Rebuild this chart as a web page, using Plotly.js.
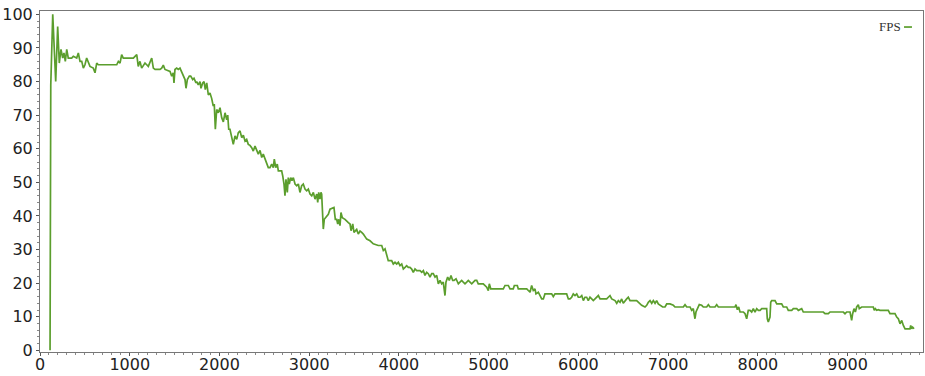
<!DOCTYPE html>
<html>
<head>
<meta charset="utf-8">
<script src="https://cdn.plot.ly/plotly-3.0.1.min.js"></script>
<style>html,body{margin:0;padding:0;background:#fff;}#chart{width:925px;height:376px;}</style>
</head>
<body>
<div id="chart"></div>
<script>
// Frame time (x) and FPS (y)
const frameTime = [
112,120,142,159,175,197,215,234,253,267,282,298,315,353,371,409,427,446,465,483,501,520,557,594,613,632,650,780,855,873,892,910,928,966,1003,1040,1059,1078,1095,1114,1133,1170,1189,1207,1245,1263,1282,1337,
1356,1374,1393,1449,1468,1485,1493,1504,1523,1541,1560,1579,1597,1616,1627,1642,1664,1679,1702,1716,1738,1746,1764,1783,1794,1813,1828,1842,1858,1876,1894,1913,1931,1942,1954,1969,1987,2006,2025,2043,2062,2081,2092,2103,2117,2136,2154,2173,2192,2210,2229,2248,2266,2285,2303,2321,2340,2359,2377,2396,2415,2433,2452,2471,2488,2507,2526,2544,
2563,2582,2600,2611,2627,2644,2656,2693,2705,2719,2730,2741,2756,2767,2778,2794,2808,2823,2842,2861,2879,2897,2916,2934,2953,2972,2990,3009,3028,3046,3065,3084,3095,3106,3120,3131,3139,3146,3157,3168,3195,3213,3232,3262,3276,3291,3306,3318,3329,3343,3354,3369,3399,3436,3455,3466,3485,3499,3529,3547,3566,3585,3603,3641,3678,3714,3770,3808,3826,3845,3864,3881,3919,3937,
3956,3975,3993,4012,4031,4049,4068,4086,4104,4123,4142,4160,4179,4198,4235,4254,4272,4290,4309,4327,4346,4365,4383,4402,4421,4439,4458,4476,4494,4513,4524,4543,4561,4580,4599,4614,4636,4662,4680,4699,4717,4736,4755,4773,4792,4811,4829,4848,4867,4884,4940,4978,4996,5007,5023,5163,5182,5219,5238,5274,5286,5319,5330,5424,5442,
5461,5479,5497,5516,5527,5553,5572,5591,5609,5627,5702,5720,5739,5869,5888,5906,5925,5943,5962,5981,5999,6018,6037,6055,6073,6092,6110,6129,6148,6166,6185,6204,6222,6241,6315,6333,6352,6371,6408,6427,6445,6464,6482,6500,6519,6538,6556,6575,6649,6667,6686,6705,6742,6761,6779,6798,6817,6835,6854,6872,6890,6909,6939,6965,6984,7021,
7058,7076,7169,7188,7207,7244,7262,7280,7299,7310,7325,7347,7374,7392,7429,7448,7466,7522,7541,7559,7745,7756,7771,7786,7801,7838,7857,7875,7893,7912,7931,7949,7968,7987,8005,8024,8043,8098,8105,8116,8135,8143,8154,8191,8210,8265,8283,8321,8339,8377,8395,8433,8451,8488,8506,
8729,8748,8785,8804,8952,8971,8990,9027,9045,9056,9071,9086,9101,9119,9130,9157,9286,9297,9309,9324,9342,9361,9453,9472,9528,9547,9565,9584,9603,9621,9640,9695,9703,9714,9725,9740
];
const fps = [
0,79,100,87,80,96.4,85.5,89.6,87,88.5,86,89.6,87,87,87.5,87,88.5,86,86,84,85,87,84.5,84,82.6,85.5,85,85,85,86,85.5,88,87,87,87,87,87.5,88,84.5,86,84,85.5,85,84.5,87,84,83.6,83.6,
84,84.9,83.6,83,81.6,82.6,79.6,83.6,84,83.6,84,83,82,80.6,78,80.6,81.6,81.6,80.6,81,79.6,80,79,80,78,79.6,80,77.6,79.6,76,76.6,75,72.7,73.3,65.8,71.7,70.7,72.2,69.2,68,70.7,68.6,70,65.8,65.8,63.3,61.3,63.8,62.8,64.8,65.3,63.3,64,62.3,62.8,61.3,61,60.3,59.3,60.8,59.3,58.4,59.5,57.4,58.4,57.2,55.9,54.4,
54.4,55.4,54.4,56.9,54.4,55.4,53.4,53.4,51.9,49.5,46,50.9,47,51.4,49.5,51.4,50.5,51.4,49.5,49,49.5,47,49,49.5,48,47.5,48,46.5,46,47,45,46.5,44,47,45,47,46.5,39,36.1,39,40,40.5,42,42.5,42.5,39,39,37.6,39,37.1,41,39.5,39,38,37.6,35.6,37.6,35.1,36,34.6,35.5,35.1,34.6,33.1,32.6,31.7,31.2,31.2,29.7,30.2,28.2,26.7,26.7,25.7,
26.2,25.7,26.2,25.2,25.7,24.2,24.7,25.2,24.7,24.7,24.2,23.2,24.2,23.7,23.7,23.2,23.7,22.3,23.2,22.8,21.8,22.8,22.8,21.8,22.3,19.8,20.8,19.8,20.3,16.3,20.3,21.8,20.8,22.3,20.8,20.8,21.3,19.8,20.3,20.8,20.3,19.8,20.3,20.8,20.3,19.8,20.3,20.8,20.8,19.8,19.8,18.8,17.8,19.8,18.3,18.3,19.3,19.3,18.3,18.3,19.3,19.3,18.3,18.3,17.8,
17.3,19.3,17.8,18.3,16.8,17.3,16.3,15.3,15.3,16.8,16.8,16,16.8,16.8,15.3,15.3,15.8,16.8,16.3,16.8,15.8,15.8,16.3,14.8,15.8,15.8,14.8,15.8,15.3,14.8,15.3,15.8,16.3,15.3,15.3,15.8,16.3,15.3,14.8,14,14.8,14.3,15.3,14,14.8,15.3,15.8,14.8,14.8,14.3,13.8,13.4,12.9,13.4,14.3,14.8,14,14.8,14,14.8,13.8,13.4,12.9,12.9,13.8,13.8,
13.4,12.9,12.9,13.6,12.9,12.9,11.9,12.4,9.4,11.4,12.4,13.6,13.4,12.9,12.9,13.6,12.9,12.9,13.6,12.9,12.9,13.6,12.1,12.9,11.4,11.4,10.9,9.4,11.9,11.9,11.4,12.4,11.4,12.4,11.9,11.9,12.4,12.4,9.4,8.4,9.9,14.3,14.8,14.8,13.8,13.8,12.9,12.9,11.9,11.9,12.4,12.4,11.9,12.4,11.4,
11.4,10.9,10.9,11.4,11.4,10.9,11.4,11.4,8.9,10.9,12.4,11.4,12.9,13.6,12.4,12.9,12.9,11.9,12.4,11.9,12.1,11.9,11.9,10.9,10.9,9.9,9.4,7.9,8.9,7.4,6.4,6.4,7.4,6.4,6.9,6.4
];
const seriesName = 'FPS';
const xTicks = [0,1000,2000,3000,4000,5000,6000,7000,8000,9000];
const yTicks = [0,10,20,30,40,50,60,70,80,90,100];
const lineColor = '#5b9e2d';

const trace = {
  x: frameTime, y: fps, type: 'scatter', mode: 'lines', name: seriesName,
  line: {color: lineColor, width: 1.7},
  showlegend: false
};

const tickFont = {family: 'DejaVu Sans', size: 16, color: '#222'};
const layout = {
  width: 925, height: 376,
  margin: {l: 40, r: 2, t: 11, b: 24, pad: 0},
  paper_bgcolor: '#fff', plot_bgcolor: '#fff',
  showlegend: false,
  // legend key: series name followed by a short line in the series colour
  annotations: [{
    xref: 'paper', yref: 'paper', x: 0.9773, y: 0.956, xanchor: 'right', yanchor: 'middle',
    text: seriesName, showarrow: false, font: {family: 'Liberation Serif', size: 13, color: '#333'}
  }],
  shapes: [{
    type: 'line', xref: 'paper', yref: 'paper', x0: 0.9785, x1: 0.9875, y0: 0.953, y1: 0.953,
    line: {color: lineColor, width: 1.7}
  }],
  xaxis: {
    range: [0, 9840], tickvals: xTicks, ticktext: xTicks.map(String),
    showgrid: false, zeroline: false, showline: true, linecolor: '#777', linewidth: 1, mirror: true,
    ticks: 'outside', ticklen: 3, tickcolor: '#555', tickfont: tickFont, ticklabelstandoff: -5,
    minor: {dtick: 100, ticklen: 2, tickcolor: '#888', ticks: 'outside', showgrid: false}
  },
  yaxis: {
    range: [-0.5, 101], tickvals: yTicks, ticktext: yTicks.map(String),
    showgrid: false, zeroline: false, showline: true, linecolor: '#777', linewidth: 1, mirror: true,
    ticks: 'outside', ticklen: 3, tickcolor: '#555', tickfont: tickFont,
    minor: {dtick: 2, ticklen: 2, tickcolor: '#888', ticks: 'outside', showgrid: false}
  }
};
Plotly.newPlot('chart', [trace], layout, {displayModeBar: false, staticPlot: true});
</script>
</body>
</html>
